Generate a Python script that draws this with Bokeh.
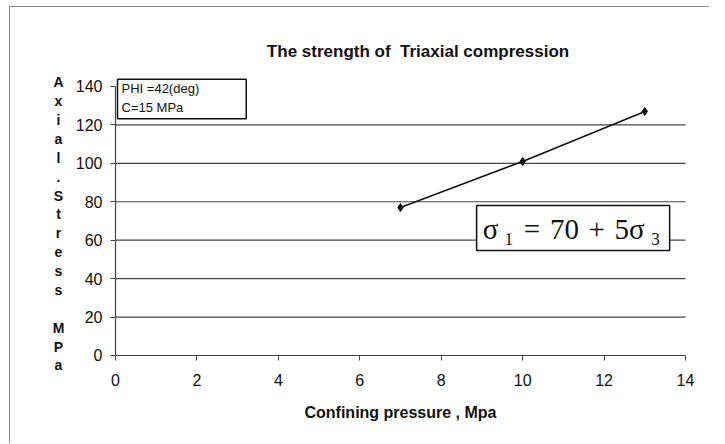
from bokeh.plotting import figure
from bokeh.models import Label, FixedTicker, Range1d
from bokeh.embed import file_html
from bokeh.resources import INLINE

# data
confining = [7, 10, 13]
axial_stress = [77, 101, 127]
x_ticks = [0, 2, 4, 6, 8, 10, 12, 14]
y_ticks = [0, 20, 40, 60, 80, 100, 120, 140]
grid_ticks = [20, 40, 60, 80, 100, 120]

title_text = "The strength of\u00a0 Triaxial compression"
x_label = "Confining pressure , Mpa"
y_label = "Axial.Stress MPa"
info_text = "PHI =42(deg)\nC=15 MPa"
equation_text = "σ\u2009₁\u2004=\u200470\u2004+\u20045σ\u2009₃"

FONT = "Liberation Sans"
INK = "#111111"
LINE = "#444444"

p = figure(width=700, height=437, output_backend="svg", toolbar_location=None,
           x_range=Range1d(-2.579, 14.614), y_range=Range1d(-46.32, 181.1),
           min_border_left=0, min_border_right=0, min_border_top=0, min_border_bottom=0,
           styles={"margin-left": "9px", "margin-top": "6px",
                   "border-left": "1px solid #888", "border-top": "1px solid #888"})
p.title.visible = False
p.outline_line_color = None
p.background_fill_color = "white"
p.border_fill_color = "white"

p.xaxis.ticker = FixedTicker(ticks=x_ticks)
p.yaxis.ticker = FixedTicker(ticks=y_ticks)
p.xaxis.bounds = (x_ticks[0], x_ticks[-1])
p.yaxis.bounds = (y_ticks[0], y_ticks[-1])
p.yaxis.fixed_location = x_ticks[0]
p.xaxis.fixed_location = y_ticks[0]
for ax in (p.xaxis[0], p.yaxis[0]):
    ax.axis_line_color = LINE
    ax.axis_line_width = 1.2
    ax.major_tick_line_color = LINE
    ax.major_tick_out = 5
    ax.major_tick_in = 0
    ax.minor_tick_line_color = None
    ax.major_label_text_font = FONT
    ax.major_label_text_font_size = "16px"
    ax.major_label_text_color = INK
p.yaxis.major_label_standoff = 8
p.xaxis.major_label_standoff = 14

p.xaxis.axis_label = x_label
p.xaxis.axis_label_text_font = FONT
p.xaxis.axis_label_text_font_size = "16px"
p.xaxis.axis_label_text_font_style = "bold"
p.xaxis.axis_label_text_color = INK
p.xaxis.axis_label_standoff = 14

p.xgrid.visible = False
p.ygrid.visible = False
# horizontal gridlines spanning the x axis extent
p.segment(x0=[x_ticks[0]] * len(grid_ticks), y0=grid_ticks,
          x1=[x_ticks[-1]] * len(grid_ticks), y1=grid_ticks,
          line_color=LINE, line_width=1.2, level="underlay")

p.line(confining, axial_stress, line_color="#111111", line_width=1.6)
p.scatter(confining, axial_stress, marker="diamond", size=8, color="#111111")

# title
p.add_layout(Label(x=7.43, y=158.2, text=title_text, text_font=FONT,
                   text_font_size="17px", text_font_style="bold", text_color=INK,
                   text_align="center", text_baseline="middle"))

# stacked vertical y-axis label
p.add_layout(Label(x=-1.40, y=68.5, text="\n".join(y_label), text_font=FONT,
                   text_font_size="14px", text_font_style="bold", text_color=INK,
                   text_align="center", text_baseline="middle", text_line_height=1.18))

# info box
p.add_layout(Label(x=0.05, y=143.75, text=info_text, text_font=FONT,
                   text_font_size="13px", text_color=INK,
                   text_align="left", text_baseline="top", text_line_height=1.23,
                   border_line_color="#111111", border_line_width=1.5,
                   background_fill_color="white",
                   padding=dict(left=4, right=47, top=2, bottom=4)))

# equation box
p.add_layout(Label(x=11.24, y=66.3, text=equation_text, text_font="Liberation Serif",
                   text_font_size="29px", text_color=INK,
                   text_align="center", text_baseline="middle",
                   border_line_color="#111111", border_line_width=1.5,
                   background_fill_color="white",
                   padding=dict(left=6, right=9, top=7, bottom=6)))

open("out.html", "w").write(file_html(p, INLINE))
